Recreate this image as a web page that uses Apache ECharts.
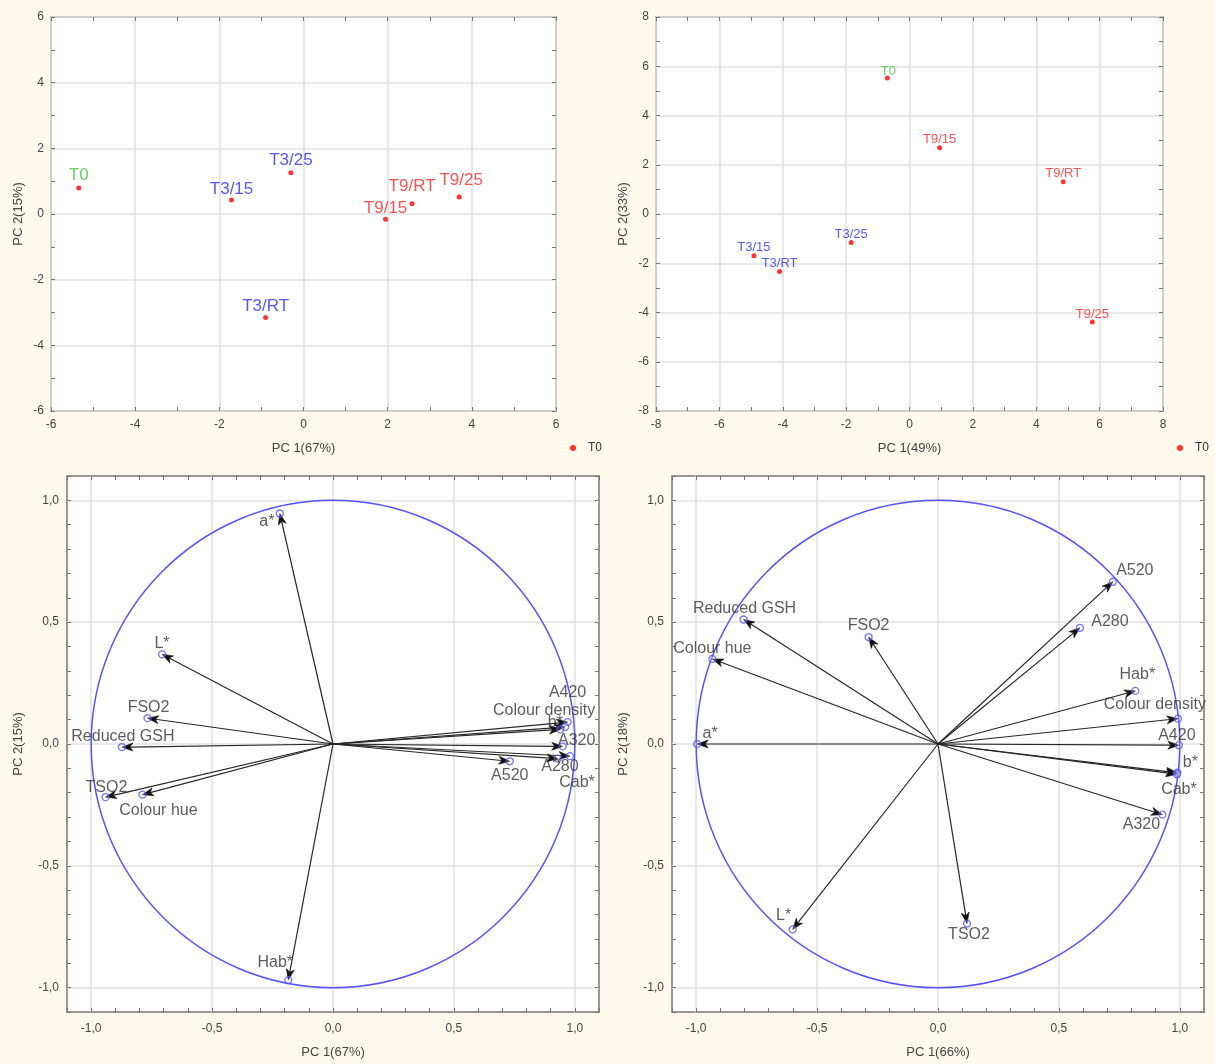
<!DOCTYPE html>
<html>
<head>
<meta charset="utf-8">
<title>PCA scores and loadings</title>
<script src="https://cdn.jsdelivr.net/npm/echarts@6/dist/echarts.min.js"></script>
<style>
  html, body { margin: 0; padding: 0; background: #fef9ed; }
  #chart { width: 1215px; height: 1064px; }
</style>
</head>
<body>
<div id="chart"></div>
<script>
// ---------- data ----------
// Sample scores, first PCA (PC1 67 %, PC2 15 %)
const samples = ['T0', 'T3/15', 'T3/25', 'T3/RT', 'T9/15', 'T9/RT', 'T9/25'];
const scoresA_pc1 = [-5.34, -1.71, -0.30, -0.90, 1.95, 2.58, 3.70];
const scoresA_pc2 = [0.79, 0.43, 1.26, -3.15, -0.16, 0.31, 0.52];
// Sample scores, second PCA (PC1 49 %, PC2 33 %)
const scoresB_pc1 = [-0.70, -4.91, -1.84, -4.10, 0.95, 4.85, 5.77];
const scoresB_pc2 = [5.52, -1.70, -1.16, -2.34, 2.69, 1.31, -4.39];

// Variable loadings
const variables = ['a*', 'L*', 'FSO2', 'Reduced GSH', 'TSO2', 'Colour hue', 'Hab*',
                   'A520', 'A420', 'Colour density', 'b*', 'A320', 'A280', 'Cab*'];
const loadA_pc1 = [-0.220, -0.707, -0.767, -0.873, -0.941, -0.788, -0.185,
                    0.731, 0.970, 0.960, 0.940, 0.950, 0.930, 0.980];
const loadA_pc2 = [0.946, 0.368, 0.106, -0.013, -0.218, -0.208, -0.969,
                   -0.071, 0.090, 0.070, 0.060, -0.010, -0.060, -0.050];
const loadB_pc1 = [-0.996, -0.601, -0.287, -0.804, 0.120, -0.933, 0.816,
                    0.723, 0.996, 0.992, 0.990, 0.928, 0.587, 0.988];
const loadB_pc2 = [0.000, -0.761, 0.439, 0.511, -0.737, 0.349, 0.218,
                   0.666, -0.005, 0.104, -0.118, -0.290, 0.477, -0.124];

// Axis ticks
const scoreTicksA = [-6, -4, -2, 0, 2, 4, 6];
const scoreTicksB = [-8, -6, -4, -2, 0, 2, 4, 6, 8];
const loadingTicks = [-1.0, -0.5, 0.0, 0.5, 1.0];

// ---------- styling ----------
const FONT = '"Liberation Sans", Arial, sans-serif';
const FRAME = '#767676';
const GRIDLINE = '#e0e0e0';
const AXIS_TEXT = '#444444';
const CIRCLE_BLUE = '#5353ff';
const GROUP_COLOURS = { T0: '#3fc63f', T3: '#2c2cf5', T9: '#ff2626' };

// label offsets (px) from each marker
const scoreOffsetA = { 'T0': [0, -13], 'T3/15': [0, -11], 'T3/25': [0, -12], 'T3/RT': [0, -11],
                       'T9/15': [0, -11], 'T9/RT': [0, -18], 'T9/25': [2, -17] };
const scoreOffsetB = { 'T0': [1, -7], 'T3/15': [0, -8], 'T3/25': [0, -8], 'T3/RT': [0, -8],
                       'T9/15': [0, -8], 'T9/RT': [0, -8], 'T9/25': [0, -8] };
const loadOffsetA = {
  'a*': [-13, 8], 'L*': [0, -11], 'FSO2': [1, -11], 'Reduced GSH': [1, -11], 'TSO2': [1, -10],
  'Colour hue': [16, 16], 'Hab*': [-13, -17], 'A520': [0, 14], 'A420': [0, -29],
  'Colour density': [-21, -16], 'b*': [-5, -7], 'A320': [14, -6], 'A280': [2, 8], 'Cab*': [7, 26]
};
const loadOffsetB = {
  'a*': [13, -10], 'L*': [-9, -14], 'FSO2': [0, -11], 'Reduced GSH': [1, -11], 'TSO2': [2, 11],
  'Colour hue': [0, -10], 'Hab*': [2, -16], 'A520': [22, -11], 'A420': [-2, -10],
  'Colour density': [-23, -14], 'b*': [13, -10], 'A320': [-21, 10], 'A280': [30, -6], 'Cab*': [2, 15]
};

const grids = [
  { left: 51,  top: 17,  width: 505, height: 394 },
  { left: 656, top: 17,  width: 507, height: 394 },
  { left: 67,  top: 476, width: 532, height: 540 },
  { left: 672, top: 476, width: 532, height: 540 }
];

const panels = [
  { range: [-6, 6], ticks: scoreTicksA, step: 1, xName: 'PC 1(67%)', yName: 'PC 2(15%)',
    xGap: 31, yGap: 26, fmt: v => String(v), xMargin: 8, yMargin: 7 },
  { range: [-8, 8], ticks: scoreTicksB, step: 1, xName: 'PC 1(49%)', yName: 'PC 2(33%)',
    xGap: 31, yGap: 26, fmt: v => String(v), xMargin: 8, yMargin: 7 },
  { range: [-1.1, 1.1], ticks: loadingTicks, step: 0.1, xName: 'PC 1(67%)', yName: 'PC 2(15%)',
    xGap: 34, yGap: 42, fmt: v => v.toFixed(1).replace('.', ','), xMargin: 11, yMargin: 8 },
  { range: [-1.1, 1.1], ticks: loadingTicks, step: 0.1, xName: 'PC 1(66%)', yName: 'PC 2(18%)',
    xGap: 34, yGap: 42, fmt: v => v.toFixed(1).replace('.', ','), xMargin: 11, yMargin: 8 }
];

// ---------- axes: for each grid one labelled axis plus two tick-only axes per dimension ----------
const xAxes = [], yAxes = [];
panels.forEach((p, g) => {
  ['x', 'y'].forEach(dim => {
    const list = dim === 'x' ? xAxes : yAxes;
    const sides = dim === 'x' ? ['bottom', 'top'] : ['left', 'right'];
    list.push({
      gridIndex: g, type: 'value', min: p.range[0], max: p.range[1], position: sides[0],
      name: dim === 'x' ? p.xName : p.yName, nameLocation: 'middle',
      nameGap: dim === 'x' ? p.xGap : p.yGap,
      nameTextStyle: { fontFamily: FONT, fontSize: 13, color: AXIS_TEXT },
      axisLine: { show: false, onZero: false },
      axisTick: { show: false, customValues: p.ticks },
      axisLabel: { customValues: p.ticks, formatter: p.fmt, fontFamily: FONT, fontSize: 12,
                   color: AXIS_TEXT, margin: dim === 'x' ? p.xMargin : p.yMargin },
      splitLine: { show: true, lineStyle: { color: GRIDLINE, width: 1.5 } }
    });
    sides.forEach(side => list.push({
      gridIndex: g, type: 'value', min: p.range[0], max: p.range[1], interval: p.step,
      position: side,
      axisLine: { show: false, onZero: false },
      axisLabel: { show: false },
      splitLine: { show: false },
      axisTick: { show: true, inside: true, length: 4, lineStyle: { color: FRAME, width: 1 } }
    }));
  });
});

const groupColour = name => name === 'T0' ? GROUP_COLOURS.T0
  : (name.startsWith('T3') ? GROUP_COLOURS.T3 : GROUP_COLOURS.T9);

function scoreSeries(g, pc1, pc2, offsets, fontSize) {
  return {
    type: 'scatter', name: 'T0', xAxisIndex: 3 * g, yAxisIndex: 3 * g,
    symbol: 'circle', symbolSize: 5, itemStyle: { color: '#ff0000' },
    label: { show: true, position: 'inside', formatter: '{b}', fontFamily: FONT, fontSize: fontSize },
    data: samples.map((s, i) => ({
      name: s, value: [pc1[i], pc2[i]],
      label: { color: groupColour(s), offset: offsets[s] }
    })),
    z: 3
  };
}

function circleSeries(g) {
  return {
    type: 'custom', xAxisIndex: 3 * g, yAxisIndex: 3 * g, silent: true, z: 1,
    data: [[0, 0, 1]],
    encode: { x: 0, y: 1 },
    renderItem: (params, api) => {
      const c = api.coord([api.value(0), api.value(1)]);
      const s = api.size([api.value(2), api.value(2)]);
      return { type: 'ellipse', shape: { cx: c[0], cy: c[1], rx: s[0], ry: s[1] },
               style: { fill: 'none', stroke: CIRCLE_BLUE, lineWidth: 1.5 } };
    }
  };
}

function arrowSeries(g, pc1, pc2) {
  return {
    type: 'custom', xAxisIndex: 3 * g, yAxisIndex: 3 * g, silent: true, z: 2,
    data: pc1.map((v, i) => [v, pc2[i]]),
    encode: { x: 0, y: 1 },
    renderItem: (params, api) => {
      const p0 = api.coord([0, 0]);
      const p1 = api.coord([api.value(0), api.value(1)]);
      const dx = p1[0] - p0[0], dy = p1[1] - p0[1];
      const len = Math.sqrt(dx * dx + dy * dy) || 1;
      const ux = dx / len, uy = dy / len, vx = -uy, vy = ux;
      const headLen = 11, notch = 8, half = 4;
      const bx = p1[0] - ux * headLen, by = p1[1] - uy * headLen;
      const nx = p1[0] - ux * notch, ny = p1[1] - uy * notch;
      return {
        type: 'group',
        children: [
          { type: 'line', shape: { x1: p0[0], y1: p0[1], x2: nx, y2: ny },
            style: { stroke: '#262626', lineWidth: 1.2 } },
          { type: 'polygon',
            shape: { points: [[p1[0], p1[1]], [bx + vx * half, by + vy * half], [nx, ny],
                              [bx - vx * half, by - vy * half]] },
            style: { fill: '#111', stroke: '#111', lineWidth: 0.6 } }
        ]
      };
    }
  };
}

function endpointSeries(g, pc1, pc2, offsets) {
  return {
    type: 'scatter', xAxisIndex: 3 * g, yAxisIndex: 3 * g, z: 4,
    symbol: 'circle', symbolSize: 7,
    itemStyle: { color: 'rgba(255,255,255,0.2)', borderColor: CIRCLE_BLUE, borderWidth: 1.3 },
    label: { show: true, position: 'inside', formatter: '{b}', fontFamily: FONT, fontSize: 16,
             color: '#333' },
    data: variables.map((v, i) => ({ name: v, value: [pc1[i], pc2[i]], label: { offset: offsets[v] } }))
  };
}

const legendStyle = {
  data: ['T0'], top: 437, icon: 'circle', itemWidth: 6, itemHeight: 6, selectedMode: false,
  textStyle: { fontFamily: FONT, fontSize: 12, color: '#333', padding: [0, 0, 0, 7] }
};

const option = {
  backgroundColor: '#fef9ed',
  animation: false,
  textStyle: { fontFamily: FONT },
  grid: grids.map(r => Object.assign({ show: true, backgroundColor: '#ffffff',
                                       borderColor: FRAME, borderWidth: 1.5 }, r)),
  xAxis: xAxes,
  yAxis: yAxes,
  legend: [
    Object.assign({ left: 565 }, legendStyle),
    Object.assign({ left: 1172 }, legendStyle)
  ],
  series: [
    scoreSeries(0, scoresA_pc1, scoresA_pc2, scoreOffsetA, 17),
    scoreSeries(1, scoresB_pc1, scoresB_pc2, scoreOffsetB, 13),
    circleSeries(2),
    arrowSeries(2, loadA_pc1, loadA_pc2),
    endpointSeries(2, loadA_pc1, loadA_pc2, loadOffsetA),
    circleSeries(3),
    arrowSeries(3, loadB_pc1, loadB_pc2),
    endpointSeries(3, loadB_pc1, loadB_pc2, loadOffsetB)
  ]
};

const chart = echarts.init(document.getElementById('chart'), null, { renderer: 'canvas' });
chart.setOption(option);
</script>
</body>
</html>
